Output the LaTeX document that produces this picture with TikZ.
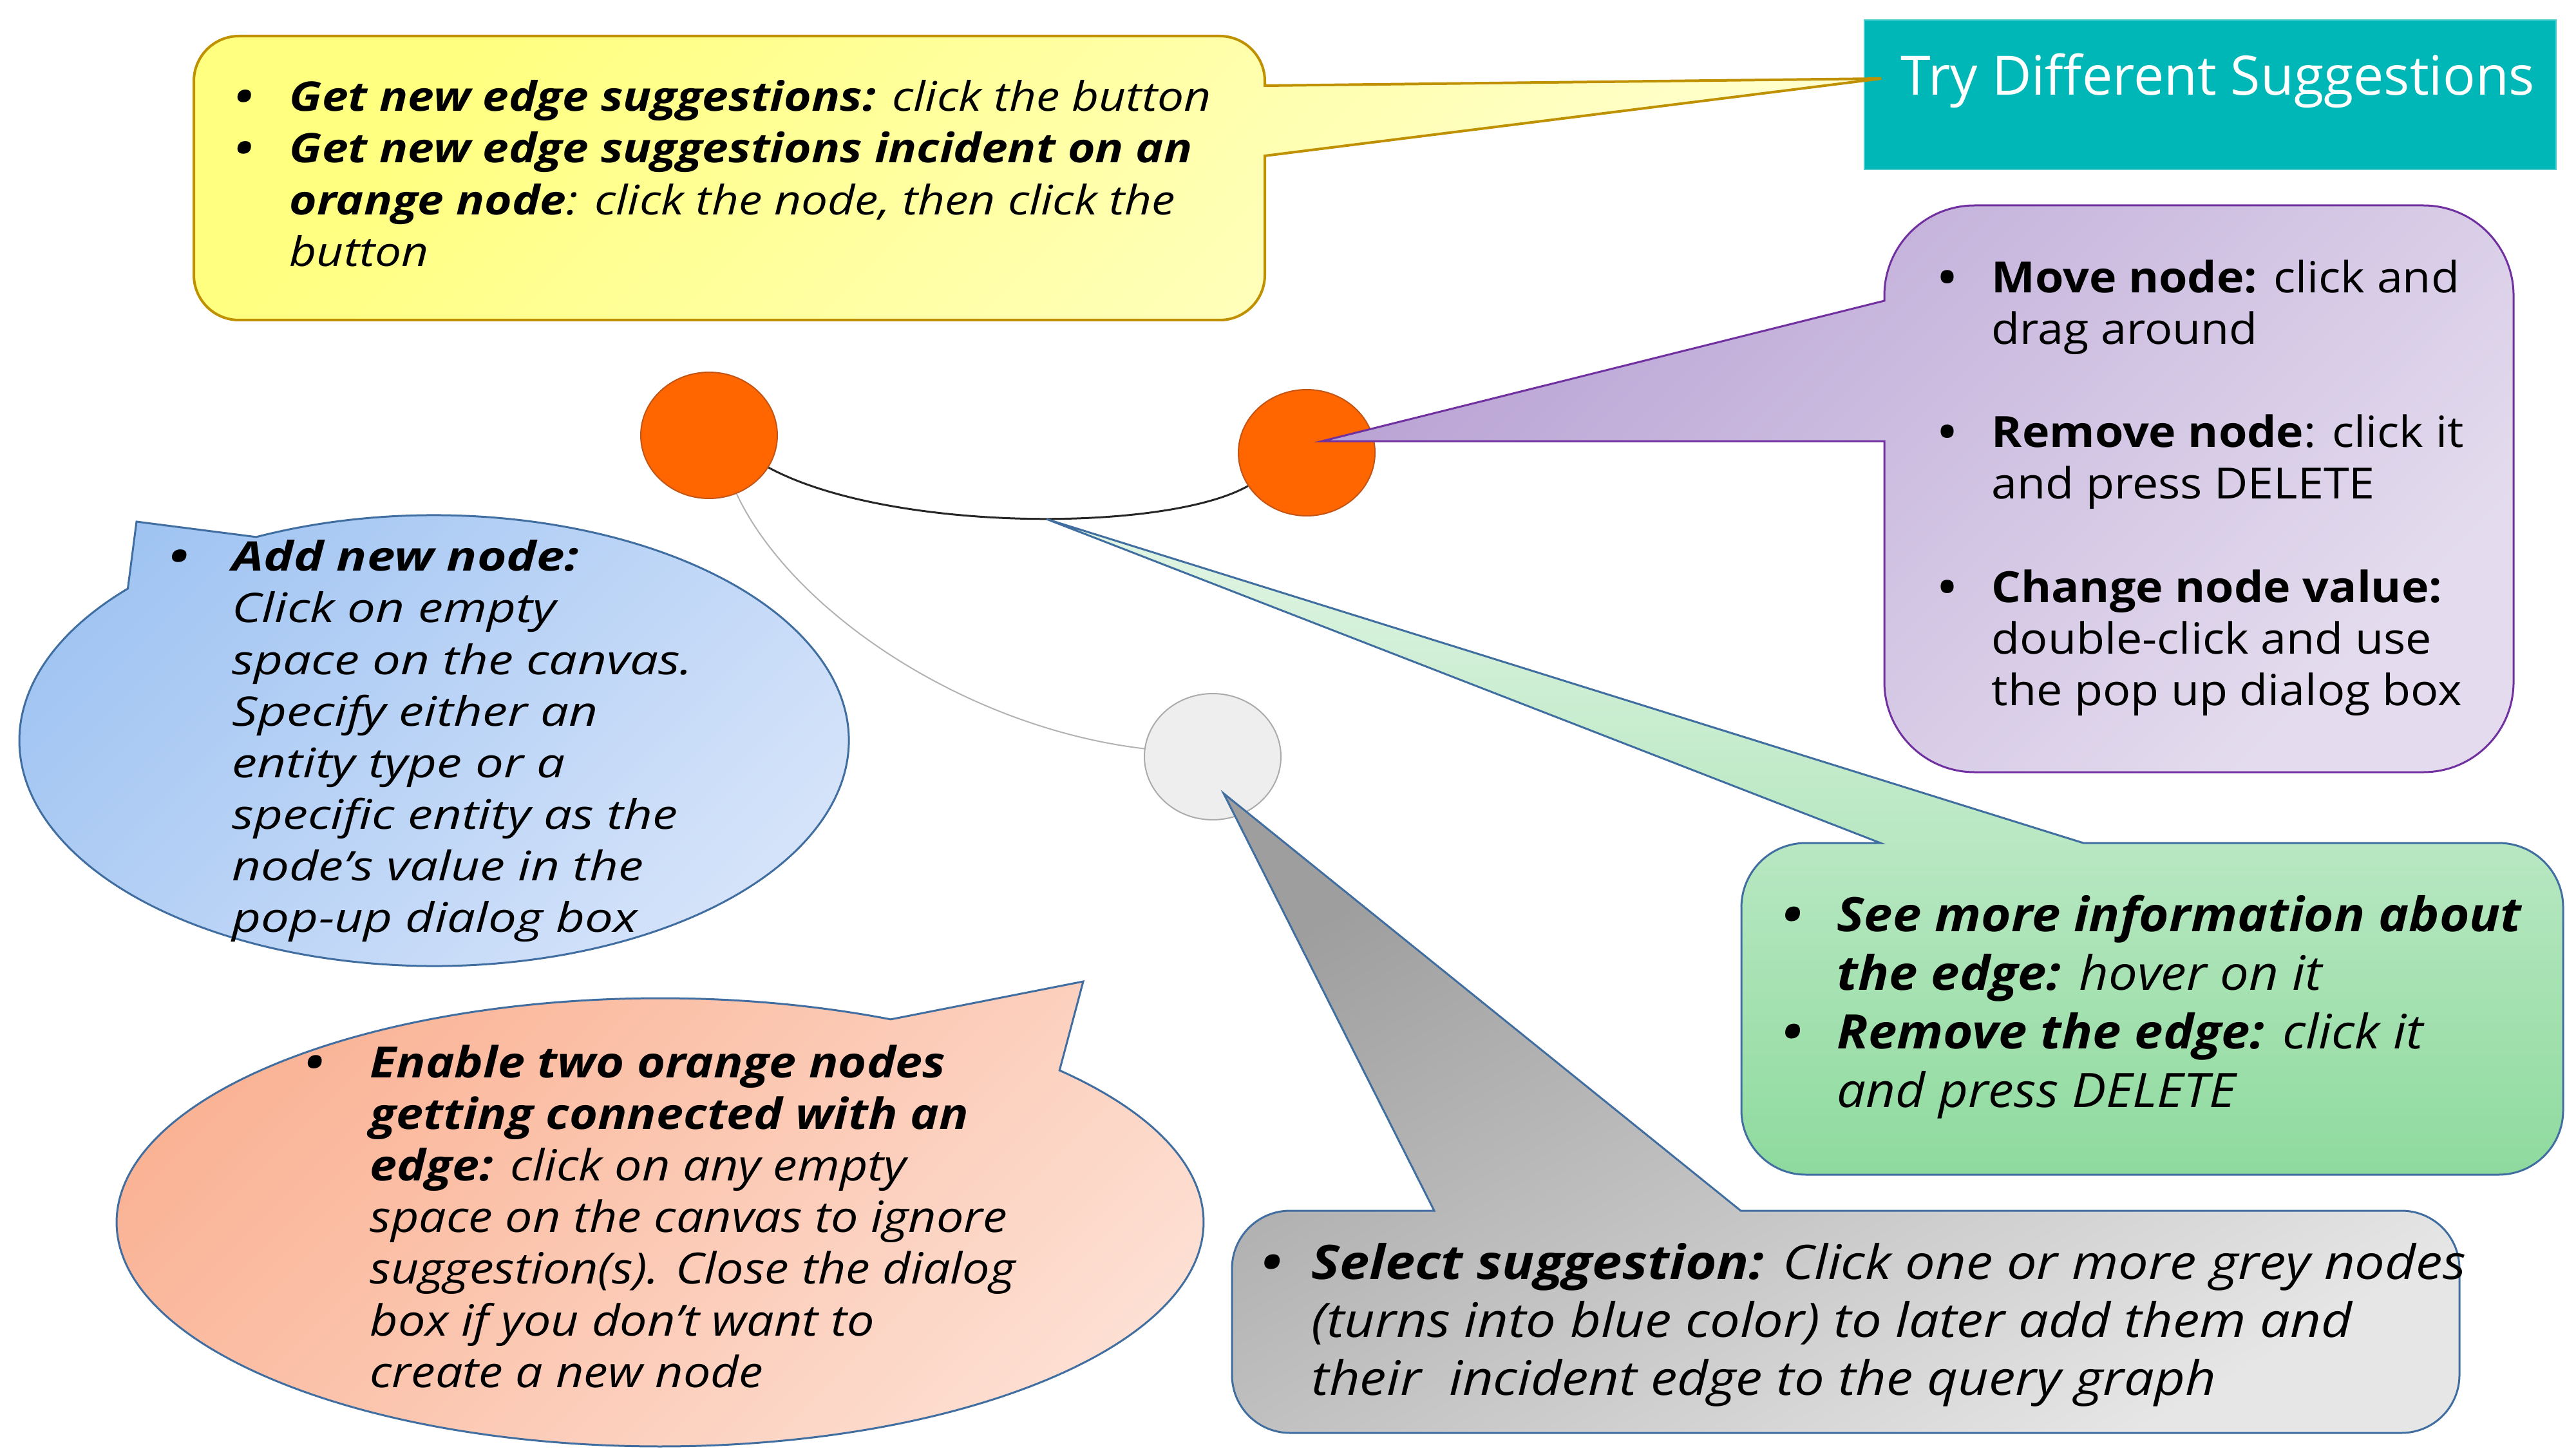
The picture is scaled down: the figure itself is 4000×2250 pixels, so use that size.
\documentclass[tikz,border=0pt]{standalone}
\usepackage{fontspec}
\setmainfont{Open Sans}
\usetikzlibrary{shapes.geometric,calc}
\definecolor{yellowtop}{RGB}{255,255,128}
\definecolor{yellowbot}{RGB}{255,255,206}
\definecolor{yellowline}{RGB}{191,144,0}
\definecolor{btnteal}{RGB}{0,183,183}
\definecolor{purpletop}{RGB}{186,164,213}
\definecolor{purplebot}{RGB}{228,220,238}
\definecolor{purpleline}{RGB}{112,48,160}
\definecolor{bluetop}{RGB}{160,196,242}
\definecolor{bluebot}{RGB}{216,229,250}
\definecolor{salmontop}{RGB}{250,178,148}
\definecolor{salmonbot}{RGB}{253,224,212}
\definecolor{greentop}{RGB}{226,245,229}
\definecolor{greenbot}{RGB}{142,218,158}
\definecolor{greytop}{RGB}{158,158,158}
\definecolor{greybot}{RGB}{230,230,230}
\definecolor{calloutline}{RGB}{65,110,160}
\definecolor{nodeorange}{RGB}{255,102,0}
\definecolor{nodeorangeline}{RGB}{196,84,20}
\definecolor{nodegrey}{RGB}{238,238,238}
\newlength{\bw}
\newcommand{\bl}{\makebox[\bw][l]{\textbf{\textbullet}}}
\newcommand{\ind}{\hspace*{\bw}}

\begin{document}
\begin{tikzpicture}[x=0.1mm, y=-0.1mm,
    callout/.style={line width=0.3mm, draw=calloutline},
    txt/.style={anchor=north west, inner sep=0pt, align=left},
    bullet/.code={\setlength{\bw}{#1}},
    qnode/.style={ellipse, minimum width=21.2mm, minimum height=19.6mm, inner sep=0pt, line width=0.2mm},
    orangenode/.style={qnode, fill=nodeorange, draw=nodeorangeline},
    greynode/.style={qnode, fill=nodegrey, draw=black!33}
]
\useasboundingbox (0,0) rectangle (4000,2250);

% query graph
\node[orangenode] (n1) at (1101,676) {};
\node[orangenode] (n2) at (2029,703) {};
\node[greynode] (n3) at (1883,1175) {};
\draw[line width=0.3mm, black!85] (n1) .. controls (1380,827) and (1810,827) .. (n2);
\draw[line width=0.2mm, black!30] (n1) .. controls (1230,950) and (1500,1130) .. (n3);

% button
\node[rectangle, fill=btnteal, draw=btnteal!70, minimum width=107.4mm, minimum height=23.2mm] (btn) at (3432,147) {};
\node[font=\fontsize{24}{28}\selectfont, text=white, inner sep=0pt] (btntext) at (3444,125) {Try Different Suggestions};

% yellow callout
\draw[line width=0.4mm, draw=yellowline, top color=yellowtop, bottom color=yellowbot, shading angle=45]
  (371,56) -- (1894,56) arc[start angle=-90, end angle=0, radius=70] -- (1964,133) -- (2921,122) -- (1964,242)
  -- (1964,427) arc[start angle=0, end angle=90, radius=70] -- (371,497) arc[start angle=90, end angle=180, radius=70]
  -- (301,126) arc[start angle=180, end angle=270, radius=70] -- cycle;
\node[txt, bullet=8.4mm, font=\fontsize{18}{22.8}\selectfont\itshape\addfontfeature{FakeStretch=1.155}] (gettxt) at (365,124)
  {\bl\textbf{Get new edge suggestions:} click the button\\
   \bl\textbf{Get new edge suggestions incident on an}\\
   \ind\textbf{orange node}: click the node, then click the\\
   \ind button};

% purple callout
\draw[line width=0.3mm, draw=purpleline, top color=purpletop, bottom color=purplebot, shading angle=45]
  (3066,319) -- (3763,319) arc[start angle=-90, end angle=0, radius=140] -- (3903,1059)
  arc[start angle=0, end angle=90, radius=140] -- (3066,1199) arc[start angle=90, end angle=180, radius=140]
  -- (2926,685) -- (2053,685) -- (2926,467) -- (2926,459) arc[start angle=180, end angle=270, radius=140] -- cycle;
\node[txt, bullet=8.2mm, font=\fontsize{19}{22.8}\selectfont\addfontfeature{FakeStretch=1.075}] (movetxt) at (3010,403)
  {\bl\textbf{Move node:} click and\\
   \ind drag around\\[22.8pt]
   \bl\textbf{Remove node}: click it\\
   \ind and press DELETE\\[22.8pt]
   \bl\textbf{Change node value:}\\
   \ind double-click and use\\
   \ind the pop up dialog box};

% blue callout
\draw[callout, top color=bluetop, bottom color=bluebot, shading angle=45]
  ($(674,1150)+(-115.4:644 and 350)$) arc[start angle=-115.4, end angle=222.4, x radius=644, y radius=350]
  -- (212,810) -- cycle;
\node[txt, bullet=9.7mm, font=\fontsize{18}{22.8}\selectfont\itshape\addfontfeature{FakeStretch=1.235}] (addtxt) at (263,838)
  {\bl\textbf{Add new node:}\\
   \ind Click on empty\\
   \ind space on the canvas.\\
   \ind Specify either an\\
   \ind entity type or a\\
   \ind specific entity as the\\
   \ind node’s value in the\\
   \ind pop-up dialog box};

% salmon callout
\draw[callout, top color=salmontop, bottom color=salmonbot, shading angle=45]
  ($(1025,1898)+(-42.7:844 and 348)$) arc[start angle=-42.7, end angle=295.1, x radius=844, y radius=348]
  -- (1682,1524) -- cycle;
\node[txt, bullet=10mm, font=\fontsize{19}{22.8}\selectfont\itshape\addfontfeature{FakeStretch=1.13}] (enabletxt) at (474,1622)
  {\bl\textbf{Enable two orange nodes}\\
   \ind\textbf{getting connected with an}\\
   \ind\textbf{edge:} click on any empty\\
   \ind space on the canvas to ignore\\
   \ind suggestion(s). Close the dialog\\
   \ind box if you don’t want to\\
   \ind create a new node};

% green callout
\draw[callout, top color=greentop, bottom color=greenbot]
  (2804,1309) -- (2920,1309) -- (1625,806) -- (3235,1309) -- (3880,1309)
  arc[start angle=-90, end angle=0, radius=100] -- (3980,1724) arc[start angle=0, end angle=90, radius=100]
  -- (2804,1824) arc[start angle=90, end angle=180, radius=100] -- (2704,1409)
  arc[start angle=180, end angle=270, radius=100] -- cycle;
\node[txt, bullet=8.4mm, font=\fontsize{21}{25.9}\selectfont\itshape\addfontfeature{FakeStretch=1.08}] (edgetxt) at (2768,1389)
  {\bl\textbf{See more information about}\\
   \ind\textbf{the edge:} hover on it\\
   \bl\textbf{Remove the edge:} click it\\
   \ind and press DELETE};

% grey callout
\draw[callout, top color=greytop, bottom color=greybot, shading angle=30]
  (2003,1880) -- (2227,1880) -- (1900,1232) -- (2703,1880) -- (3729,1880)
  arc[start angle=-90, end angle=0, radius=90] -- (3819,2135) arc[start angle=0, end angle=90, radius=90]
  -- (2003,2225) arc[start angle=90, end angle=180, radius=90] -- (1913,1970)
  arc[start angle=180, end angle=270, radius=90] -- cycle;
\node[txt, bullet=7.7mm, font=\fontsize{21}{25.6}\selectfont\itshape\addfontfeature{FakeStretch=1.125}] (selecttxt) at (1959,1930)
  {\bl\textbf{Select suggestion:} Click one or more grey nodes\\
   \ind (turns into blue color) to later add them and\\
   \ind their~ incident edge to the query graph};
\end{tikzpicture}
\end{document}
